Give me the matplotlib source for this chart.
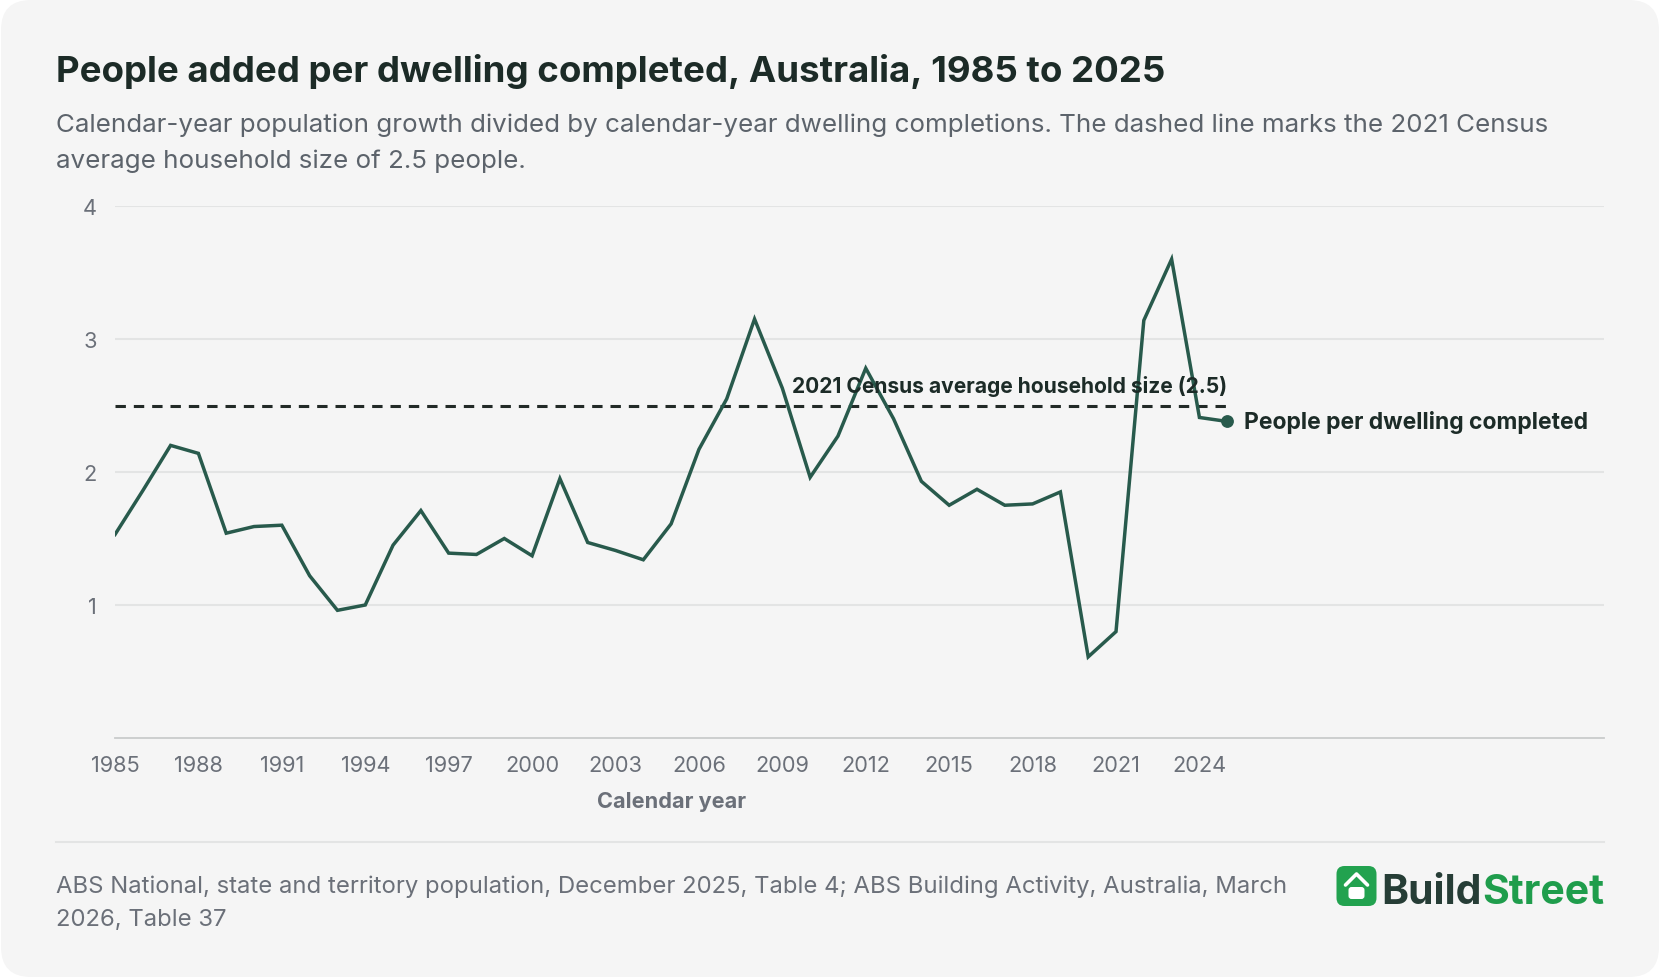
import matplotlib
matplotlib.use("Agg")
import matplotlib.pyplot as plt
from matplotlib.patches import FancyBboxPatch
import numpy as np

plt.rcParams['font.family'] = ['Inter', 'DejaVu Sans']

# data
years = list(range(1985, 2026))
people_per_dwelling = [
    1.53, 1.86, 2.20, 2.14, 1.54, 1.59, 1.60, 1.22, 0.96, 1.00,
    1.45, 1.71, 1.39, 1.38, 1.50, 1.37, 1.95, 1.47, 1.41, 1.34,
    1.61, 2.17, 2.55, 3.15, 2.63, 1.96, 2.27, 2.78, 2.40, 1.93,
    1.75, 1.87, 1.75, 1.76, 1.85, 0.61, 0.80, 3.14, 3.60, 2.41,
    2.38,
]
census_hh_size = 2.5
x_ticks = list(range(1985, 2025, 3))
y_ticks = [1, 2, 3, 4]

W, H = 1660, 979
LINE = '#285a4c'
DARK = '#1c2b27'
GREY = '#6b7079'
SUB = '#5c636b'
GRID = '#e3e4e4'
CARD = '#f5f5f5'


def fx(px):
    return px / W


def fy(py):
    return 1 - py / H


fig = plt.figure(figsize=(W / 100, H / 100), dpi=100)
fig.patch.set_facecolor('white')
card = FancyBboxPatch((1, 1), W - 2, H - 2, boxstyle='round,pad=0,rounding_size=30',
                      transform=None, facecolor=CARD, edgecolor='none', zorder=-5)
fig.patches.append(card)

ax = fig.add_axes([fx(115), fy(739), fx(1604) - fx(115), fy(207) - fy(739)])
ax.set_zorder(2)
ax.set_facecolor('none')
ax.set_xlim(1985, 2038.55)
ax.set_ylim(0, 4)
for s in ['top', 'right', 'left']:
    ax.spines[s].set_visible(False)
ax.spines['bottom'].set_color('#c9cbcc')
ax.spines['bottom'].set_linewidth(1.3)
ax.set_yticks(y_ticks)
ax.set_yticklabels([str(v) for v in y_ticks])
ax.set_xticks(x_ticks)
ax.set_xticklabels([str(v) for v in x_ticks])
ax.tick_params(axis='both', length=0, labelsize=15.7, labelcolor=GREY)
ax.tick_params(axis='x', pad=12)
ax.tick_params(axis='y', pad=13)
ax.grid(axis='y', color=GRID, linewidth=1.5)
ax.set_axisbelow(True)

ax.plot([years[0], years[-1]], [census_hh_size, census_hh_size], color='#222a27',
        lw=2.2, dashes=(3.4, 2.6), zorder=2)
ax.plot(years, people_per_dwelling, color=LINE, lw=2.5, zorder=3,
        solid_joinstyle='miter')
ax.plot(years[-1], people_per_dwelling[-1], 'o', color=LINE, ms=8.2, zorder=4)

ax.text(years[-1], census_hh_size + 0.1, '2021 Census average household size (2.5)',
        ha='right', va='baseline', fontsize=15.1, fontweight='bold', color=DARK)
ax.annotate('People per dwelling completed', (years[-1], people_per_dwelling[-1]),
            xytext=(12, 0), textcoords='offset points', ha='left', va='center',
            fontsize=16.5, fontweight='bold', color=DARK)
ax.text((years[0] + years[-1]) / 2, -0.47, 'Calendar year', ha='center', va='center',
        fontsize=15.6, fontweight='bold', color=GREY)

# header
fig.text(fx(56), fy(82), 'People added per dwelling completed, Australia, 1985 to 2025',
         fontsize=26.4, fontweight='bold', color=DARK, va='baseline')
fig.text(fx(56), fy(132), 'Calendar-year population growth divided by calendar-year dwelling '
         'completions. The dashed line marks the 2021 Census',
         fontsize=18.7, color=SUB, va='baseline')
fig.text(fx(56), fy(168), 'average household size of 2.5 people.',
         fontsize=18.7, color=SUB, va='baseline')

# footer
fig.add_artist(plt.Line2D([fx(56), fx(1604)], [fy(843), fy(843)], color=GRID, lw=1.5))
fig.text(fx(56), fy(893), 'ABS National, state and territory population, December 2025, '
         'Table 4; ABS Building Activity, Australia, March',
         fontsize=17.2, color=GREY, va='baseline')
fig.text(fx(56), fy(926), '2026, Table 37', fontsize=17.2, color=GREY, va='baseline')

# logo
renderer = fig.canvas.get_renderer()
t_street = fig.text(fx(1604), fy(904), 'Street', fontsize=29.5, fontweight='bold',
                    color='#1f9d4c', ha='right', va='baseline')
bb = t_street.get_window_extent(renderer)
t_build = fig.text(bb.x0 / W, fy(904), 'Build', fontsize=29.5, fontweight='bold',
                   color='#263d36', ha='right', va='baseline')
bb2 = t_build.get_window_extent(renderer)
ix1 = bb2.x0 - 5
ix0 = ix1 - 40
iy0, iy1 = H - 907, H - 867
icon = FancyBboxPatch((ix0, iy0), 40, 40, boxstyle='round,pad=0,rounding_size=8',
                      transform=None, facecolor='#22a24f', edgecolor='none')
fig.patches.append(icon)
roof = plt.Line2D([ix0 + 9, ix0 + 20, ix0 + 31], [iy0 + 21, iy0 + 32, iy0 + 21],
                  transform=None, color='white', lw=2.6, solid_capstyle='round',
                  solid_joinstyle='round')
fig.add_artist(roof)
body = FancyBboxPatch((ix0 + 12, iy0 + 7), 16, 12, boxstyle='round,pad=0,rounding_size=3',
                      transform=None, facecolor='white', edgecolor='none')
fig.patches.append(body)

fig.savefig('out.png', dpi=100, facecolor=fig.get_facecolor())
